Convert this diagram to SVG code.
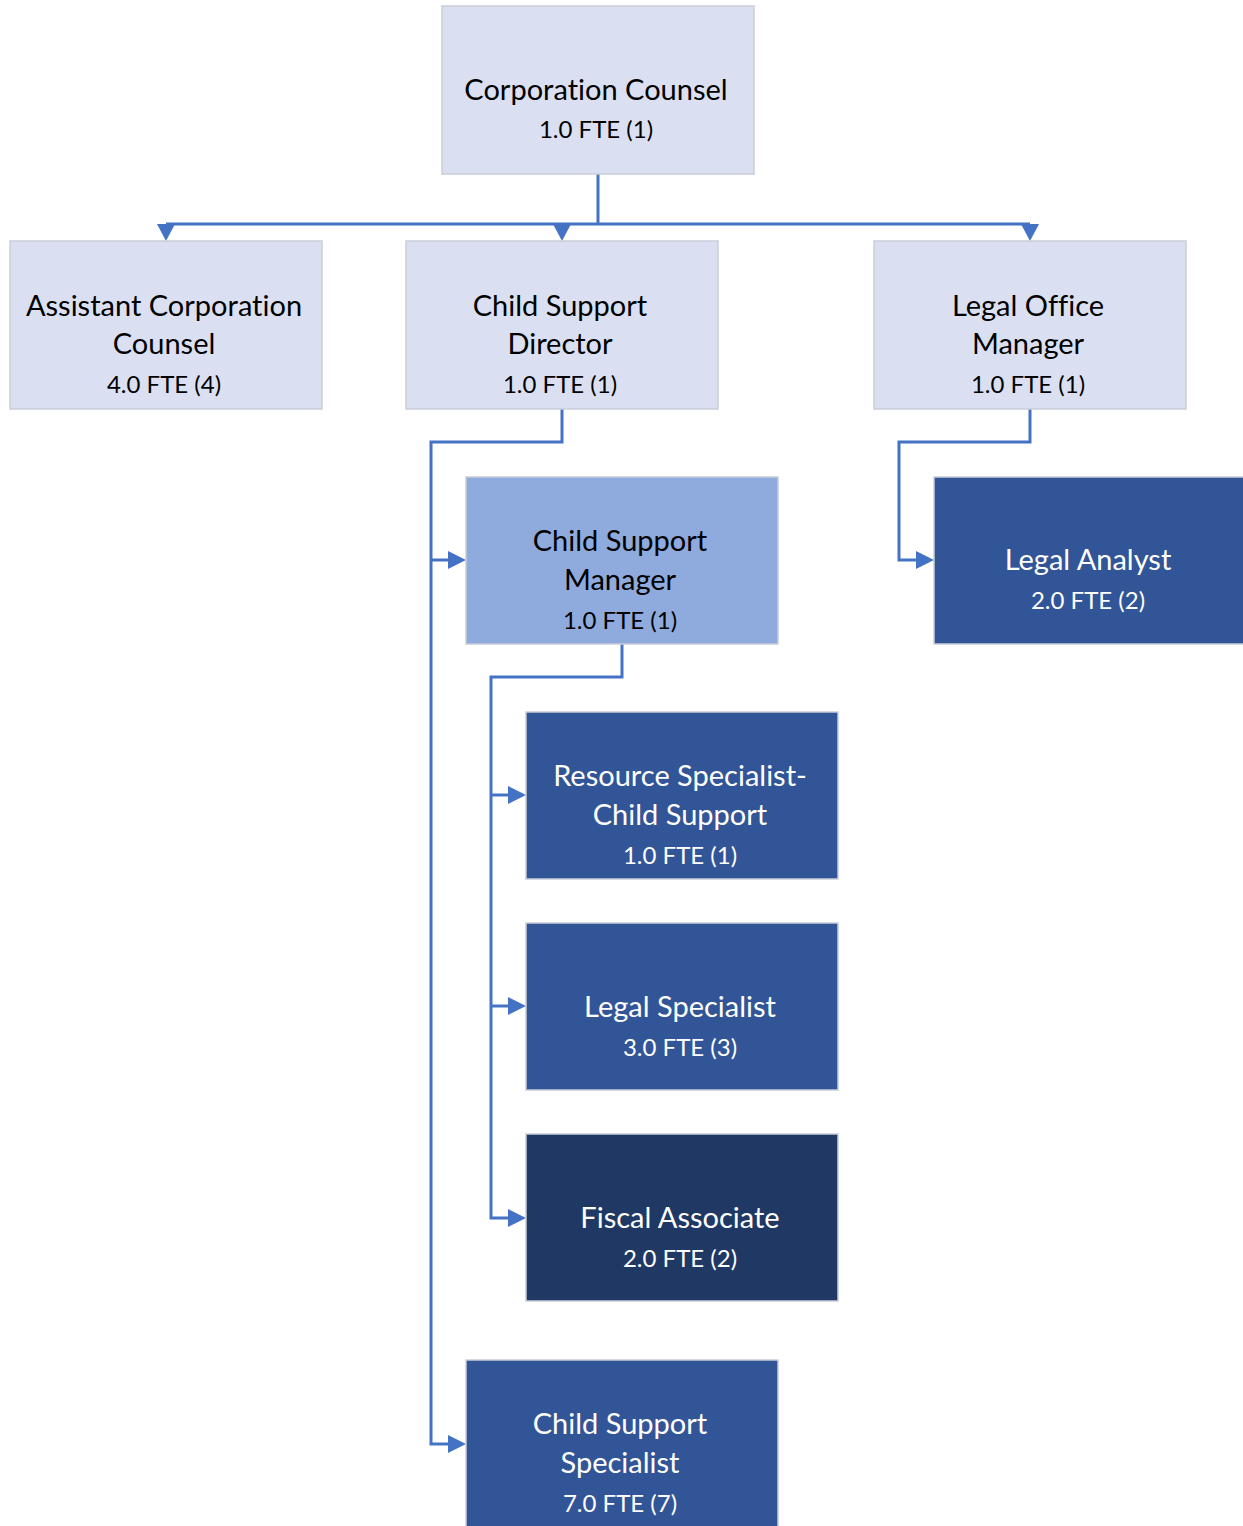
<svg xmlns="http://www.w3.org/2000/svg" width="1243" height="1526" viewBox="0 0 1243 1526">
<defs>
<style>
.box{stroke:#c8cdd8;stroke-width:1.5}
.l1{fill:#dae0f2}
.l2{fill:#8faadc}
.d1{fill:#325597}
.d2{fill:#203864}
text{font-family:Lato,"Liberation Sans",sans-serif;text-anchor:middle;font-variant-ligatures:none;font-feature-settings:"liga" 0}
.n{font-size:29px}
.f{font-size:24px}
.k{fill:#000}
.w{fill:#fff}
.c{fill:none;stroke:#4472c4;stroke-width:3}
.ah{fill:#4472c4}
</style>
</defs>
<rect width="1243" height="1526" fill="#fff"/>
<g id="connectors">
<path class="c" d="M598,174 V224"/>
<path class="c" d="M166,224 H1030"/>
<path class="ah" d="M157,224 h18 l-9,17 z"/>
<path class="ah" d="M553,224 h18 l-9,17 z"/>
<path class="ah" d="M1021,224 h18 l-9,17 z"/>
<path class="c" d="M562,409 V442 H431 V1444 H450"/>
<path class="c" d="M431,560 H450"/>
<path class="ah" d="M448,551 v18 l18,-9 z"/>
<path class="ah" d="M448,1435 v18 l18,-9 z"/>
<path class="c" d="M1030,409 V442 H899 V560 H918"/>
<path class="ah" d="M916,551 v18 l18,-9 z"/>
<path class="c" d="M622,644 V677 H491 V1218 H510"/>
<path class="c" d="M491,795 H510"/>
<path class="c" d="M491,1006 H510"/>
<path class="ah" d="M508,786 v18 l18,-9 z"/>
<path class="ah" d="M508,997 v18 l18,-9 z"/>
<path class="ah" d="M508,1209 v18 l18,-9 z"/>
</g>
<g id="corporation-counsel">
<rect class="box l1" x="442" y="6" width="312" height="168"/>
<text class="n k" x="596" y="100">Corporation Counsel</text>
<text class="f k" x="596" y="138">1.0 FTE (1)</text>
</g>
<g id="assistant-corporation-counsel">
<rect class="box l1" x="10" y="241" width="312" height="168"/>
<text class="n k" x="164" y="316">Assistant Corporation</text>
<text class="n k" x="164" y="354">Counsel</text>
<text class="f k" x="164" y="393">4.0 FTE (4)</text>
</g>
<g id="child-support-director">
<rect class="box l1" x="406" y="241" width="312" height="168"/>
<text class="n k" x="560" y="316">Child Support</text>
<text class="n k" x="560" y="354">Director</text>
<text class="f k" x="560" y="393">1.0 FTE (1)</text>
</g>
<g id="legal-office-manager">
<rect class="box l1" x="874" y="241" width="312" height="168"/>
<text class="n k" x="1028" y="316">Legal Office</text>
<text class="n k" x="1028" y="354">Manager</text>
<text class="f k" x="1028" y="393">1.0 FTE (1)</text>
</g>
<g id="child-support-manager">
<rect class="box l2" x="466" y="477" width="312" height="167"/>
<text class="n k" x="620" y="551">Child Support</text>
<text class="n k" x="620" y="590">Manager</text>
<text class="f k" x="620" y="629">1.0 FTE (1)</text>
</g>
<g id="legal-analyst">
<rect class="box d1" x="934" y="477" width="312" height="167"/>
<text class="n w" x="1088" y="570">Legal Analyst</text>
<text class="f w" x="1088" y="609">2.0 FTE (2)</text>
</g>
<g id="resource-specialist">
<rect class="box d1" x="526" y="712" width="312" height="167"/>
<text class="n w" x="680" y="786">Resource Specialist-</text>
<text class="n w" x="680" y="825">Child Support</text>
<text class="f w" x="680" y="864">1.0 FTE (1)</text>
</g>
<g id="legal-specialist">
<rect class="box d1" x="526" y="923" width="312" height="167"/>
<text class="n w" x="680" y="1017">Legal Specialist</text>
<text class="f w" x="680" y="1056">3.0 FTE (3)</text>
</g>
<g id="fiscal-associate">
<rect class="box d2" x="526" y="1134" width="312" height="167"/>
<text class="n w" x="680" y="1228">Fiscal Associate</text>
<text class="f w" x="680" y="1267">2.0 FTE (2)</text>
</g>
<g id="child-support-specialist">
<rect class="box d1" x="466" y="1360" width="312" height="168"/>
<text class="n w" x="620" y="1434">Child Support</text>
<text class="n w" x="620" y="1473">Specialist</text>
<text class="f w" x="620" y="1512">7.0 FTE (7)</text>
</g>
</svg>
